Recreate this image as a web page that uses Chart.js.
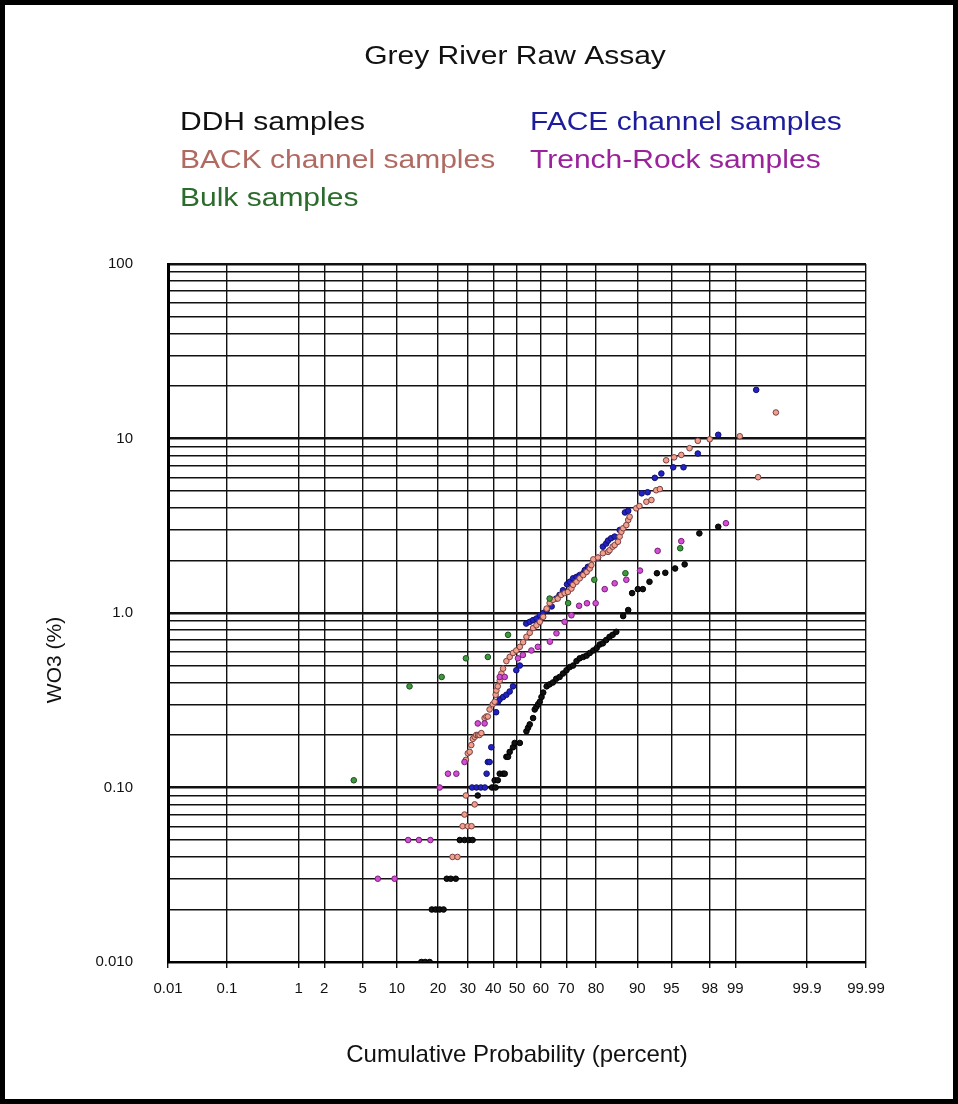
<!DOCTYPE html>
<html>
<head>
<meta charset="utf-8">
<title>Grey River Raw Assay</title>
<script src="https://cdn.jsdelivr.net/npm/chart.js@4.4.1/dist/chart.umd.min.js"></script>
<style>
  html, body { margin: 0; padding: 0; background: #fff; }
  canvas { display: block; }
</style>
</head>
<body>
<canvas id="chart" width="958" height="1104"></canvas>
<script>
// probability ticks on the x axis (percent)
const probTicks = [0.01, 0.1, 1, 2, 5, 10, 20, 30, 40, 50, 60, 70, 80, 90, 95, 98, 99, 99.9, 99.99];
const probLabels = ["0.01", "0.1", "1", "2", "5", "10", "20", "30", "40", "50", "60", "70", "80", "90", "95", "98", "99", "99.9", "99.99"];
const decadeLabels = { "0.01": "0.010", "0.1": "0.10", "1": "1.0", "10": "10", "100": "100" };

// DDH samples
const ddhProb = [15.4, 16.4, 17.6, 18.2, 19.3, 20.5, 21.7, 22.7, 24.0, 25.7, 27.1, 28.8, 30.4, 31.8, 33.8,
  39.5, 41.0, 40.6, 41.9, 42.7, 44.1, 44.8, 45.5, 46.2, 46.9, 48.3, 49.0, 51.2, 54.0, 54.7, 55.4, 56.8, 57.5,
  58.2, 58.9, 59.6, 60.3, 61.0, 62.4, 63.6, 64.9, 66.2, 67.5, 68.8, 70.1, 71.3, 72.5, 73.7, 74.8, 76.0, 77.1,
  78.1, 79.2, 80.2, 81.1, 82.0, 82.9, 83.8, 84.6, 85.5, 87.1, 88.2, 89.0, 90.1, 91.0, 92.1, 93.2, 94.3, 95.4,
  96.3, 97.4, 98.4];
const ddhWO3 = [0.01, 0.01, 0.01, 0.02, 0.02, 0.02, 0.02, 0.03, 0.03, 0.03, 0.05, 0.05, 0.05, 0.05, 0.09,
  0.10, 0.10, 0.11, 0.11, 0.12, 0.12, 0.12, 0.15, 0.15, 0.16, 0.17, 0.18, 0.18, 0.21, 0.22, 0.23, 0.25, 0.28,
  0.29, 0.30, 0.31, 0.33, 0.35, 0.38, 0.39, 0.40, 0.42, 0.43, 0.45, 0.47, 0.49, 0.50, 0.53, 0.55, 0.56, 0.57,
  0.59, 0.61, 0.63, 0.66, 0.67, 0.70, 0.73, 0.75, 0.78, 0.96, 1.04, 1.30, 1.37, 1.37, 1.51, 1.69, 1.70, 1.80,
  1.90, 2.86, 3.12];

// FACE channel samples
const faceProb = [31.6, 33.3, 35.0, 36.6, 37.3, 37.8, 38.5, 39.2, 41.2, 42.0, 42.7, 44.1, 45.5, 46.9, 48.3, 49.7,
  51.2, 53.9, 55.4, 56.8, 58.2, 59.6, 61.0, 62.4, 64.4, 66.2, 67.5, 68.8, 70.3, 71.3, 72.5, 73.7, 74.8, 76.0, 76.5,
  77.5, 80.6, 82.0, 82.9, 83.4, 84.2, 85.1, 86.3, 87.5, 88.2, 90.8, 91.8, 92.9, 93.8, 95.2, 96.2, 97.3, 98.4, 99.46];
const faceWO3 = [0.10, 0.10, 0.10, 0.10, 0.12, 0.14, 0.14, 0.17, 0.27, 0.31, 0.32, 0.33, 0.34, 0.355, 0.38, 0.47,
  0.50, 0.87, 0.89, 0.91, 0.93, 0.97, 1.0, 1.04, 1.09, 1.21, 1.27, 1.35, 1.46, 1.51, 1.58, 1.61, 1.65, 1.69, 1.76,
  1.84, 2.07, 2.40, 2.50, 2.60, 2.68, 2.74, 2.99, 3.77, 3.85, 4.85, 4.92, 5.95, 6.3, 6.84, 6.84, 8.2, 10.5, 19];

// BACK channel samples
const backProb = [24.6, 26.3, 28.1, 30.0, 31.4, 28.8, 32.6, 29.3,
  29.3, 30.0, 30.7, 31.3, 31.9, 32.6, 33.2, 33.9, 34.5, 35.2, 36.5, 37.2, 37.8, 38.5, 39.8, 40.6,
  41.0, 41.3, 41.9, 42.7, 43.4, 44.1, 45.5, 46.9, 48.3, 49.7, 51.2, 52.6, 54.0, 55.4, 56.8, 58.2, 59.6, 61.0, 62.4,
  63.6, 64.9, 66.8, 68.1, 69.4, 70.6, 71.9, 72.5, 73.7, 74.8, 76.0, 77.1, 78.1, 78.6, 79.2, 80.6, 82.0, 83.4, 83.8,
  84.6, 85.1, 85.9, 86.3, 86.7, 87.1, 87.8, 88.2, 88.5, 89.8, 90.4, 91.6, 92.4, 93.1, 93.6, 94.4, 95.3, 96.0, 96.7,
  97.3, 98.0, 99.12, 99.49, 99.71];
const backWO3 = [0.04, 0.04, 0.06, 0.06, 0.06, 0.07, 0.08, 0.09,
  0.144, 0.157, 0.16, 0.175, 0.19, 0.195, 0.20, 0.20, 0.20, 0.205, 0.25, 0.255, 0.255, 0.28, 0.30,
  0.31, 0.34, 0.36, 0.38, 0.41, 0.45, 0.48, 0.53, 0.56, 0.59, 0.61, 0.64, 0.68, 0.73, 0.77, 0.82, 0.85, 0.89, 0.95,
  1.06, 1.14, 1.19, 1.21, 1.27, 1.30, 1.32, 1.38, 1.45, 1.51, 1.58, 1.65, 1.72, 1.80, 1.88, 2.03, 2.08, 2.20, 2.24,
  2.29, 2.40, 2.45, 2.56, 2.74, 2.92, 3.06, 3.19, 3.41, 3.56, 3.98, 4.10, 4.34, 4.44, 5.05, 5.13, 7.5, 7.8, 8.05,
  8.8, 9.7, 9.9, 10.3, 6.0, 14.1];

// Trench-Rock samples
const trenchProb = [6.9, 9.6, 12.3, 14.8, 17.8, 20.5, 23.1, 25.9, 28.8, 33.8, 36.5, 42.7, 44.8, 50.4, 52.5, 56.1,
  58.8, 63.7, 66.3, 69.4, 71.9, 74.6, 77.2, 79.9, 82.5, 85.1, 87.8, 90.5, 93.3, 96.0, 98.7];
const trenchWO3 = [0.03, 0.03, 0.05, 0.05, 0.05, 0.10, 0.12, 0.12, 0.14, 0.233, 0.233, 0.43, 0.43, 0.55, 0.575, 0.61,
  0.64, 0.685, 0.765, 0.89, 0.97, 1.10, 1.137, 1.137, 1.37, 1.48, 1.55, 1.75, 2.27, 2.58, 3.27];

// Bulk samples
const bulkProb = [4.1, 12.6, 21.1, 29.3, 37.8, 46.2, 63.6, 70.7, 79.5, 87.6, 95.9];
const bulkWO3 = [0.11, 0.38, 0.43, 0.55, 0.56, 0.75, 1.21, 1.14, 1.55, 1.69, 2.35];

const legendNames = ["DDH samples", "BACK channel samples", "Bulk samples", "FACE channel samples", "Trench-Rock samples"];
const legendColors = ["#111111", "#b06a62", "#2b6b2b", "#1c1c9c", "#9a229a"];

// inverse normal cdf (Acklam), percent -> z
function probit(pct) {
  const p = pct / 100;
  const a = [-39.69683028665376, 220.9460984245205, -275.9285104469687, 138.3577518672690, -30.66479806614716, 2.506628277459239];
  const b = [-54.47609879822406, 161.5858368580409, -155.6989798598866, 66.80131188771972, -13.28068155288572];
  const c = [-0.007784894002430293, -0.3223964580411365, -2.400758277161838, -2.549732539343734, 4.374664141464968, 2.938163982698783];
  const d = [0.007784695709041462, 0.3224671290700398, 2.445134137142996, 3.754408661907416];
  const pl = 0.02425;
  let q, r;
  if (p < pl) {
    q = Math.sqrt(-2 * Math.log(p));
    return (((((c[0] * q + c[1]) * q + c[2]) * q + c[3]) * q + c[4]) * q + c[5]) / ((((d[0] * q + d[1]) * q + d[2]) * q + d[3]) * q + 1);
  }
  if (p <= 1 - pl) {
    q = p - 0.5; r = q * q;
    return (((((a[0] * r + a[1]) * r + a[2]) * r + a[3]) * r + a[4]) * r + a[5]) * q / (((((b[0] * r + b[1]) * r + b[2]) * r + b[3]) * r + b[4]) * r + 1);
  }
  q = Math.sqrt(-2 * Math.log(1 - p));
  return -(((((c[0] * q + c[1]) * q + c[2]) * q + c[3]) * q + c[4]) * q + c[5]) / ((((d[0] * q + d[1]) * q + d[2]) * q + d[3]) * q + 1);
}

const toPoints = (probs, vals) => probs.map((p, i) => ({ x: probit(p), y: vals[i] }));

const FONT = "'Liberation Sans', Arial, Helvetica, sans-serif";

// the header text in the picture is a little wide, so draw it stretched
function wideText(ctx, text, x, y, sx, align) {
  ctx.save();
  ctx.translate(x, y);
  ctx.scale(sx, 1);
  ctx.textAlign = align;
  ctx.fillText(text, 0, 0);
  ctx.restore();
}

// title, text legend, y title and outer frame
const frame = {
  id: "frame",
  beforeDraw(chart) {
    const ctx = chart.ctx;
    ctx.save();
    ctx.fillStyle = "#fff";
    ctx.fillRect(0, 0, chart.width, chart.height);
    ctx.restore();
  },
  afterDraw(chart) {
    const ctx = chart.ctx;
    ctx.save();
    ctx.strokeStyle = "#000";
    ctx.lineWidth = 5;
    ctx.strokeRect(2.5, 2.5, chart.width - 5, chart.height - 5);

    ctx.textBaseline = "alphabetic";
    ctx.font = "25px " + FONT;
    ctx.fillStyle = "#111";
    wideText(ctx, "Grey River Raw Assay", 515, 64, 1.2, "center");

    const spots = [[180, 130], [180, 168], [180, 206], [530, 130], [530, 168]];
    legendNames.forEach((name, i) => {
      ctx.fillStyle = legendColors[i];
      wideText(ctx, name, spots[i][0], spots[i][1], 1.2, "left");
    });

    // y axis title
    ctx.fillStyle = "#111";
    ctx.font = "21px " + FONT;
    ctx.translate(55, 660);
    ctx.rotate(-Math.PI / 2);
    ctx.textAlign = "center";
    ctx.textBaseline = "middle";
    ctx.fillText("WO3 (%)", 0, 0);
    ctx.restore();
  }
};

const mk = (label, probs, vals, bg, border) => ({
  label: label,
  data: toPoints(probs, vals),
  backgroundColor: bg,
  borderColor: border,
  borderWidth: 1,
  pointRadius: 2.8,
  pointHoverRadius: 2.8,
  showLine: false
});

new Chart(document.getElementById("chart").getContext("2d"), {
  type: "scatter",
  data: {
    datasets: [
      mk("Bulk samples", bulkProb, bulkWO3, "#3c9a3c", "#1e4e1e"),
      mk("Trench-Rock samples", trenchProb, trenchWO3, "#d24ed2", "#7a1e7a"),
      mk("BACK channel samples", backProb, backWO3, "#f2a08e", "#7a4040"),
      mk("FACE channel samples", faceProb, faceWO3, "#2222c4", "#10106a"),
      mk("DDH samples", ddhProb, ddhWO3, "#111111", "#000000")
    ]
  },
  options: {
    responsive: false,
    animation: false,
    devicePixelRatio: 1,
    layout: { padding: { left: 20, right: 92, top: 264, bottom: 20 } },
    plugins: {
      legend: { display: false },
      tooltip: { enabled: false },
      title: { display: false }
    },
    scales: {
      x: {
        type: "linear",
        min: probit(probTicks[0]),
        max: probit(probTicks[probTicks.length - 1]),
        afterBuildTicks: (axis) => {
          axis.ticks = probTicks.map((p) => ({ value: probit(p) }));
        },
        afterFit: (axis) => { axis.height = 122; },
        ticks: {
          autoSkip: false,
          maxRotation: 0,
          padding: 12,
          color: "#111",
          font: { family: FONT, size: 15 },
          callback: (value, index) => probLabels[index]
        },
        grid: { color: "#111", lineWidth: 1.4, tickLength: 6 },
        border: { color: "#000", width: 2 },
        title: {
          display: true,
          text: "Cumulative Probability (percent)",
          color: "#111",
          font: { family: FONT, size: 24 },
          padding: { top: 0, bottom: 14 }
        }
      },
      y: {
        type: "logarithmic",
        min: 0.01,
        max: 100,
        afterBuildTicks: (axis) => {
          const t = [];
          [0.01, 0.1, 1, 10].forEach((dec) => {
            for (let m = 1; m <= 9; m++) t.push({ value: +(dec * m).toPrecision(3), major: m === 1 });
          });
          t.push({ value: 100, major: true });
          axis.ticks = t;
        },
        afterFit: (axis) => { axis.width = 148; },
        ticks: {
          autoSkip: false,
          padding: 35,
          color: "#111",
          font: { family: FONT, size: 15 },
          callback: (value) => decadeLabels[String(value)] || ""
        },
        grid: {
          color: "#111",
          drawTicks: false,
          lineWidth: (ctx) => (ctx.tick && ctx.tick.major ? 2.4 : 1.4)
        },
        border: { color: "#000", width: 3 },
        title: { display: false }
      }
    }
  },
  plugins: [frame]
});
</script>
</body>
</html>
